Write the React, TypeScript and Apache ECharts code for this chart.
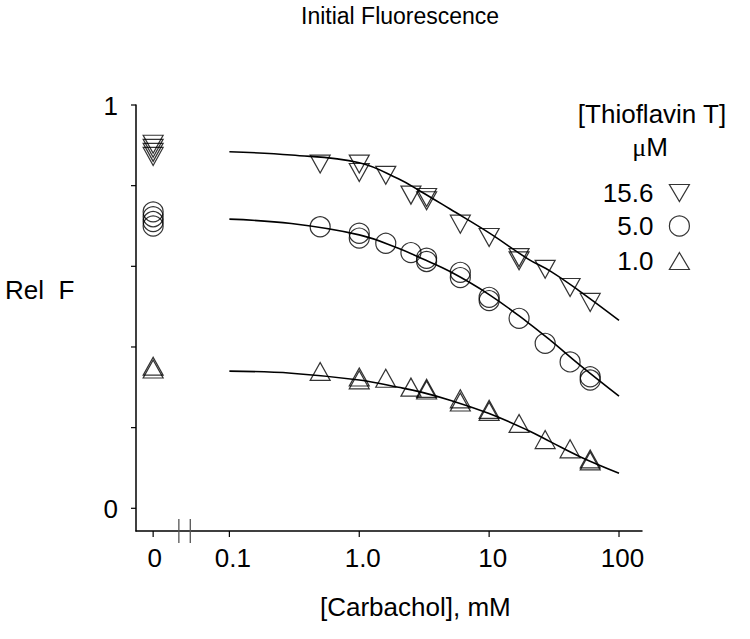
import React, { useEffect, useRef } from "react";
import * as echarts from "echarts";

// ---- Data (concentration in mM, relative fluorescence) ----
const categoriesThT = ["15.6", "5.0", "1.0"];

// measured points [carbachol mM, Rel F]; carbachol 0 is plotted in the "0" column
const points156: number[][] = [
  [0, 0.91], [0, 0.9], [0, 0.89], [0, 0.88],
  [0.5, 0.861], [1, 0.861], [1, 0.84], [1.6, 0.833], [2.5, 0.784],
  [3.3, 0.778], [3.3, 0.77], [6, 0.712], [10, 0.679], [17, 0.629], [17, 0.621],
  [27, 0.6], [42, 0.555], [60, 0.518],
];
const points50: number[][] = [
  [0, 0.735], [0, 0.723], [0, 0.711], [0, 0.7],
  [0.5, 0.698], [1, 0.682], [1, 0.67], [1.6, 0.657], [2.5, 0.634],
  [3.3, 0.62], [3.3, 0.612], [6, 0.585], [6, 0.572], [10, 0.523], [10, 0.515],
  [17, 0.471], [27, 0.409], [42, 0.363], [60, 0.326], [60, 0.318],
];
const points10: number[][] = [
  [0, 0.345], [0, 0.338],
  [0.5, 0.332], [1, 0.318], [1, 0.311], [1.6, 0.315], [2.5, 0.293],
  [3.3, 0.29], [3.3, 0.286], [6, 0.264], [6, 0.256], [10, 0.238], [10, 0.233],
  [17, 0.203], [27, 0.163], [42, 0.14], [60, 0.115], [60, 0.11],
];

// fitted curves
const curveConc = [0.1, 0.3, 1, 2, 3, 5, 10, 20, 30, 50, 100];
const fit156 = [0.884, 0.876, 0.857, 0.817, 0.785, 0.742, 0.683, 0.618, 0.587, 0.538, 0.466];
const fit50 = [0.717, 0.706, 0.678, 0.645, 0.62, 0.587, 0.53, 0.46, 0.415, 0.355, 0.278];
const fit10 = [0.34, 0.335, 0.318, 0.3, 0.288, 0.268, 0.235, 0.193, 0.164, 0.128, 0.087];

// axis ticks (x in log10 units; the "0" column sits left of the axis break)
const xTickPositions = [-1.587, -1, 0, 1, 2];
const xTickLabels = ["0", "0.1", "1.0", "10", "100"];
const xBreakPositions = [-1.389, -1.301];
const yTickValues = [0, 0.2, 0.4, 0.6, 0.8, 1.0];
const yTickLabels = ["0", "", "", "", "", "1"];

const X_MIN = -1.719;
const X_MAX = 2.177;
const Y_MIN = -0.0563;
const Y_MAX = 1.0;

const FONT = "'Liberation Sans', Arial, sans-serif";
const ZERO_POS = xTickPositions[0];

const toXY = (pts: number[][]) =>
  pts.map(([c, v]) => [c === 0 ? ZERO_POS : Math.log10(c), v]);
const curveXY = (vals: number[]) => curveConc.map((c, i) => [Math.log10(c), vals[i]]);

const DOWN_TRI = "path://M0,0L2,0L1,1.8Z";
const UP_TRI = "path://M1,0L2,1.8L0,1.8Z";

export default function App() {
  const ref = useRef<HTMLDivElement>(null);

  useEffect(() => {
    if (!ref.current) return;
    const chart = echarts.init(ref.current, null, { renderer: "svg" });

    const markerStyle = { color: "rgba(0,0,0,0)", borderColor: "#000", borderWidth: 1.2 };
    const lineSeries = (name: string, vals: number[]) => ({
      type: "line",
      name,
      data: curveXY(vals),
      smooth: 0.4,
      showSymbol: false,
      silent: true,
      lineStyle: { color: "#000", width: 1.6 },
      z: 3,
    });

    const legendBase = (name: string, icon: string, top: number, h: number) => ({
      data: [{ name, icon }],
      right: 60,
      top,
      orient: "vertical",
      align: "right",
      padding: 0,
      itemWidth: 20,
      itemHeight: h,
      selectedMode: false,
      itemStyle: { color: "rgba(0,0,0,0)", borderColor: "#000", borderWidth: 1.2 },
      textStyle: { fontSize: 26, fontFamily: FONT, color: "#000", padding: [0, 11, 0, 0] },
    });

    const option: any = {
      animation: false,
      title: {
        text: "Initial Fluorescence",
        left: 301,
        top: 4,
        padding: 0,
        textStyle: { fontSize: 23, fontWeight: "normal", fontFamily: FONT, color: "#000" },
      },
      grid: { left: 136, right: 108, top: 105, bottom: 108 },
      xAxis: {
        type: "value",
        min: X_MIN,
        max: X_MAX,
        axisLine: { show: true, onZero: false, lineStyle: { color: "#000", width: 1.5 } },
        axisTick: { show: false },
        axisLabel: { show: false },
        splitLine: { show: false },
      },
      yAxis: {
        type: "value",
        min: Y_MIN,
        max: Y_MAX,
        axisLine: { show: true, onZero: false, lineStyle: { color: "#000", width: 1.5 } },
        axisTick: { show: false },
        axisLabel: { show: false },
        splitLine: { show: false },
      },
      legend: [
        legendBase(categoriesThT[0], "path://M0,0L20,0L10,17Z", 180, 17),
        legendBase(categoriesThT[1], "circle", 213, 20),
        legendBase(categoriesThT[2], "path://M10,0L20,17L0,17Z", 248, 17),
      ],
      graphic: [
        {
          type: "text",
          left: 5,
          top: 277,
          style: { text: "Rel  F", fontSize: 26, fontFamily: FONT, fill: "#000" },
        },
        {
          type: "text",
          left: 320,
          top: 594,
          style: { text: "[Carbachol], mM", fontSize: 26, fontFamily: FONT, fill: "#000" },
        },
        {
          type: "text",
          x: 652,
          y: 114,
          style: {
            text: "[Thioflavin T]",
            fontSize: 26,
            fontFamily: FONT,
            fill: "#000",
            align: "center",
            verticalAlign: "middle",
          },
        },
        {
          type: "text",
          x: 650,
          y: 147,
          style: {
            text: "{m|μ}M",
            fontSize: 26,
            fontFamily: FONT,
            fill: "#000",
            align: "center",
            verticalAlign: "middle",
            rich: { m: { fontSize: 26, fontFamily: "'Liberation Serif', serif", fill: "#000" } },
          },
        },
      ],
      series: [
        {
          type: "scatter",
          name: categoriesThT[0],
          data: toXY(points156),
          symbol: DOWN_TRI,
          symbolSize: [20, 18],
          symbolOffset: [0, 3],
          itemStyle: markerStyle,
          silent: true,
          z: 4,
        },
        {
          type: "scatter",
          name: categoriesThT[1],
          data: toXY(points50),
          symbol: "circle",
          symbolSize: 20,
          itemStyle: markerStyle,
          silent: true,
          z: 4,
        },
        {
          type: "scatter",
          name: categoriesThT[2],
          data: toXY(points10),
          symbol: UP_TRI,
          symbolSize: [20, 18],
          symbolOffset: [0, -3],
          itemStyle: markerStyle,
          silent: true,
          z: 4,
        },
        lineSeries("fit 15.6", fit156),
        lineSeries("fit 5.0", fit50),
        lineSeries("fit 1.0", fit10),
        {
          type: "custom",
          name: "xTicks",
          silent: true,
          coordinateSystem: "cartesian2d",
          data: xTickPositions.map((p) => [p, Y_MIN]),
          renderItem: (params: any, api: any) => {
            const pt = api.coord([api.value(0), api.value(1)]);
            const idx = params.dataIndex;
            return {
              type: "group",
              children: [
                {
                  type: "line",
                  shape: { x1: pt[0], y1: pt[1], x2: pt[0], y2: pt[1] + 6 },
                  style: { stroke: "#000", lineWidth: 1.2 },
                },
                {
                  type: "text",
                  x: pt[0] + (idx === 0 ? 1.5 : 3.5),
                  y: pt[1] + 27,
                  style: {
                    text: xTickLabels[idx],
                    align: "center",
                    verticalAlign: "middle",
                    fontSize: 26,
                    fontFamily: FONT,
                    fill: "#000",
                  },
                },
              ],
            };
          },
          z: 5,
        },
        {
          type: "custom",
          name: "yTicks",
          silent: true,
          coordinateSystem: "cartesian2d",
          data: yTickValues.map((v) => [X_MIN, v]),
          renderItem: (params: any, api: any) => {
            const pt = api.coord([api.value(0), api.value(1)]);
            const idx = params.dataIndex;
            return {
              type: "group",
              children: [
                {
                  type: "line",
                  shape: { x1: pt[0] - 5, y1: pt[1], x2: pt[0], y2: pt[1] },
                  style: { stroke: "#000", lineWidth: 1.2 },
                },
                {
                  type: "text",
                  x: pt[0] - 18,
                  y: pt[1] + 1,
                  style: {
                    text: yTickLabels[idx],
                    align: "right",
                    verticalAlign: "middle",
                    fontSize: 26,
                    fontFamily: FONT,
                    fill: "#000",
                  },
                },
              ],
            };
          },
          z: 5,
        },
        {
          type: "custom",
          name: "axisBreak",
          silent: true,
          coordinateSystem: "cartesian2d",
          data: xBreakPositions.map((p) => [p, Y_MIN]),
          renderItem: (params: any, api: any) => {
            const pt = api.coord([api.value(0), api.value(1)]);
            return {
              type: "line",
              shape: { x1: pt[0], y1: pt[1] - 12, x2: pt[0], y2: pt[1] + 12 },
              style: { stroke: "#555", lineWidth: 1.3 },
            };
          },
          z: 5,
        },
      ],
    };

    chart.setOption(option);
    return () => chart.dispose();
  }, []);

  return (
    <div
      ref={ref}
      style={{ position: "absolute", left: 0, top: 0, width: 750, height: 639, background: "#fff" }}
    />
  );
}
